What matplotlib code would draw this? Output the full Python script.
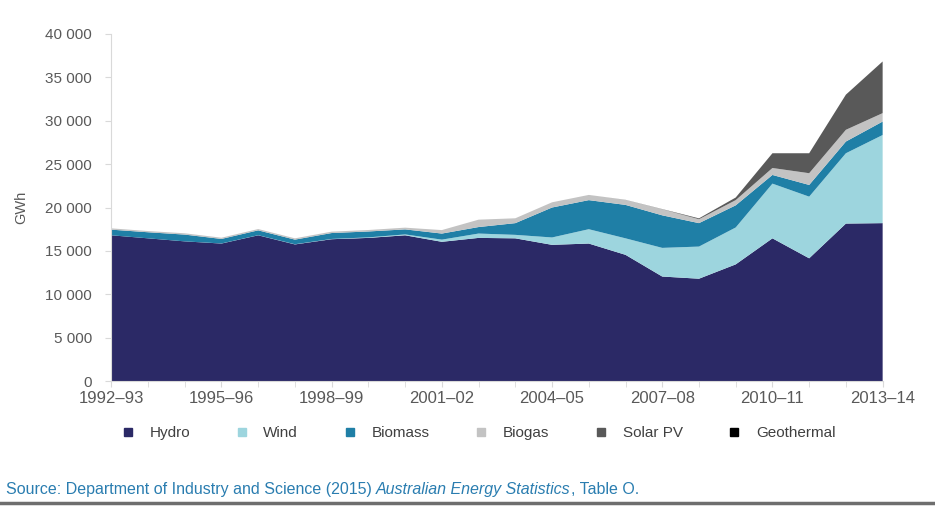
import matplotlib
matplotlib.use("Agg")
import matplotlib.pyplot as plt
from matplotlib.lines import Line2D
from matplotlib.ticker import FuncFormatter, MultipleLocator

plt.rcParams['font.family'] = ['Liberation Sans', 'DejaVu Sans']

years = ["1992–93", "1993–94", "1994–95", "1995–96", "1996–97", "1997–98",
         "1998–99", "1999–00", "2000–01", "2001–02", "2002–03", "2003–04",
         "2004–05", "2005–06", "2006–07", "2007–08", "2008–09", "2009–10",
         "2010–11", "2011–12", "2012–13", "2013–14"]

hydro = [16800, 16450, 16100, 15850, 16800, 15750, 16350, 16500, 16800, 16050, 16500,
         16450, 15700, 15850, 14550, 12050, 11800, 13450, 16450, 14150, 18150, 18200]
wind = [0, 0, 0, 10, 10, 20, 30, 60, 100, 250, 500,
        400, 850, 1650, 1900, 3300, 3700, 4250, 6300, 7100, 8100, 10150]
biomass = [650, 700, 780, 520, 560, 530, 680, 680, 580, 700, 750,
           1350, 3450, 3350, 3850, 3750, 2700, 2550, 1000, 1350, 1350, 1550]
biogas = [150, 140, 150, 140, 150, 150, 160, 170, 200, 400, 850,
          560, 600, 600, 580, 700, 450, 600, 800, 1350, 1350, 970]
solar_pv = [0, 0, 0, 0, 0, 0, 0, 0, 0, 0, 0,
            0, 0, 0, 10, 20, 100, 300, 1700, 2300, 4050, 5950]
geothermal = [0, 0, 0, 0, 0, 0, 0, 0, 0, 0, 0,
              0, 0, 0, 0, 0, 0, 0, 0, 0, 0, 0]

series_names = ["Hydro", "Wind", "Biomass", "Biogas", "Solar PV", "Geothermal"]
colors = ["#2B2966", "#9DD5DE", "#1F7FA6", "#C3C3C3", "#595959", "#000000"]

fig = plt.figure(figsize=(9.35, 5.13), dpi=100)
ax = fig.add_axes([0.119, 0.257, 0.825, 0.677])

x = list(range(len(years)))
ax.stackplot(x, hydro, wind, biomass, biogas, solar_pv, geothermal,
             colors=colors, linewidth=0)

ax.set_xlim(0, len(years) - 1)
ax.set_ylim(0, 40000)
ax.yaxis.set_major_locator(MultipleLocator(5000))
ax.yaxis.set_major_formatter(FuncFormatter(lambda v, p: f"{int(v):,}".replace(",", " ")))
ax.set_xticks(x[::3])
ax.set_xticklabels(years[::3])
ax.set_xticks(x, minor=True)

for s in ["top", "right"]:
    ax.spines[s].set_visible(False)
ax.spines["left"].set_color("#D9D9D9")
ax.spines["bottom"].set_color("#D9D9D9")
ax.tick_params(axis="y", colors="#D9D9D9", labelcolor="#595959", labelsize=11,
               length=4, pad=10)
ax.tick_params(axis="x", which="both", colors="#D9D9D9", labelcolor="#595959",
               labelsize=12, length=4, pad=3)

ax.set_ylabel("GWh", color="#595959", fontsize=10.5, labelpad=12)

handles = [Line2D([0], [0], marker="s", linestyle="none", markersize=6,
                  markerfacecolor=c, markeredgecolor=c) for c in colors]
fig.legend(handles, series_names, loc="center", bbox_to_anchor=(0.507, 0.156),
           ncol=6, frameon=False, fontsize=11, handletextpad=0.4,
           columnspacing=2.4, labelcolor="#404040")

src_color = "#2A7DB0"
fs = 11.5
t1 = fig.text(0.006, 0.038, "Source: Department of Industry and Science (2015) ",
              fontsize=fs, color=src_color, va="baseline")
a2 = fig.add_artist(plt.Annotation("Australian Energy Statistics", xy=(1, 0),
                                   xycoords=t1, va="bottom", ha="left",
                                   fontsize=fs, color=src_color, style="italic"))
a3 = fig.add_artist(plt.Annotation(", Table O.", xy=(1, 0), xycoords=a2,
                                   va="bottom", ha="left", fontsize=fs,
                                   color=src_color))

fig.add_artist(Line2D([0.0, 1.0], [0.02, 0.02], transform=fig.transFigure,
                      color="#6E6E6E", linewidth=2.5))

fig.savefig("out.png", dpi=100)
